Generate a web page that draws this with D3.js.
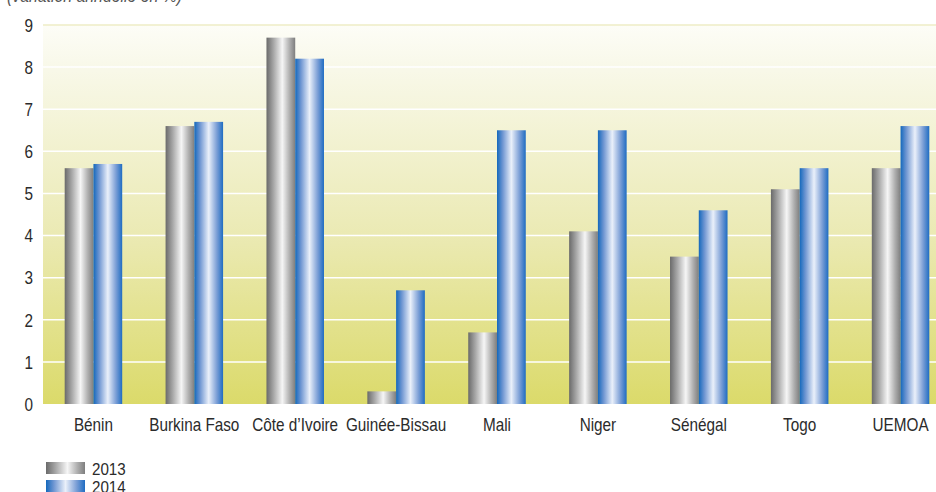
<!DOCTYPE html>
<html>
<head>
<meta charset="utf-8">
<script src="https://cdn.jsdelivr.net/npm/d3@7/dist/d3.min.js"></script>
<style>
  html, body { margin: 0; padding: 0; background: #fff; }
  svg { display: block; }
  svg text { font-family: "Liberation Sans Narrow", "Arial Narrow", "Liberation Sans", Arial, sans-serif; fill: #2b2b2b; }
</style>
</head>
<body>
<svg id="chart" width="936" height="492"></svg>
<script>
const categories = ["Bénin", "Burkina Faso", "Côte d’Ivoire", "Guinée-Bissau", "Mali", "Niger", "Sénégal", "Togo", "UEMOA"];
const seriesNames = ["2013", "2014"];
const values2013 = [5.6, 6.6, 8.7, 0.3, 1.7, 4.1, 3.5, 5.1, 5.6];
const values2014 = [5.7, 6.7, 8.2, 2.7, 6.5, 6.5, 4.6, 5.6, 6.6];
const yTicks = [0, 1, 2, 3, 4, 5, 6, 7, 8, 9];
const subtitle = "(variation annuelle en %)";

(function () {
const svg = d3.select("#chart");
const W = 936;
const mLeft = 43, mRight = 951, mTop = 25, mBottom = 404;
const condense = "scale(0.85,1)";

const defs = svg.append("defs");
const bg = defs.append("linearGradient").attr("id", "bg").attr("x1", 0).attr("y1", 0).attr("x2", 0).attr("y2", 1);
bg.append("stop").attr("offset", "0%").attr("stop-color", "#fdfdf7");
bg.append("stop").attr("offset", "12%").attr("stop-color", "#f8f8e8");
bg.append("stop").attr("offset", "55%").attr("stop-color", "#ebeab4");
bg.append("stop").attr("offset", "100%").attr("stop-color", "#dbda6a");

const gGray = defs.append("linearGradient").attr("id", "g2013").attr("x1", 0).attr("y1", 0).attr("x2", 1).attr("y2", 0);
[["0%", "#6a6a6a"], ["25%", "#a8a8a8"], ["55%", "#f6f6f6"], ["80%", "#b0b0b0"], ["100%", "#7e7e7e"]]
  .forEach(([o, c]) => gGray.append("stop").attr("offset", o).attr("stop-color", c));
const gBlue = defs.append("linearGradient").attr("id", "g2014").attr("x1", 0).attr("y1", 0).attr("x2", 1).attr("y2", 0);
[["0%", "#1468bc"], ["20%", "#6f96d2"], ["50%", "#eaf0fa"], ["78%", "#7c9fd6"], ["100%", "#1f6cc2"]]
  .forEach(([o, c]) => gBlue.append("stop").attr("offset", o).attr("stop-color", c));

const x0 = d3.scaleBand().domain(categories).range([mLeft, mRight]).paddingInner(0.43).paddingOuter(0.215);
const x1 = d3.scaleBand().domain(seriesNames).range([0, x0.bandwidth()]);
const y = d3.scaleLinear().domain([0, 9]).range([mBottom, mTop]);

// background
svg.append("rect").attr("x", mLeft).attr("y", y(9)).attr("width", W - mLeft).attr("height", y(0) - y(9)).attr("fill", "url(#bg)");

// gridlines
svg.append("g").selectAll("line").data(yTicks.filter(d => d > 0)).join("line")
  .attr("x1", mLeft).attr("x2", W)
  .attr("y1", d => y(d)).attr("y2", d => y(d))
  .attr("stroke", d => d === 9 ? "#eeedc6" : "#ffffff")
  .attr("stroke-width", 1.5);

// y axis labels
const yAxis = d3.axisLeft(y).tickValues(yTicks).tickSize(0).tickPadding(0).tickFormat(d3.format("d"));
const ya = svg.append("g").attr("transform", "translate(33,0)").call(yAxis)
  .attr("font-family", null).attr("font-size", 18);
ya.select(".domain").remove();
ya.selectAll("text").attr("fill", "#2b2b2b").attr("dy", "0.35em").attr("transform", condense);

// bars
const series = [values2013, values2014];
const groups = svg.append("g").selectAll("g").data(categories).join("g")
  .attr("transform", d => `translate(${x0(d)},0)`);
groups.selectAll("rect").data((d, i) => seriesNames.map((s, k) => ({ s, v: series[k][i] }))).join("rect")
  .attr("x", d => x1(d.s))
  .attr("width", x1.bandwidth())
  .attr("y", d => y(d.v))
  .attr("height", d => y(0) - y(d.v))
  .attr("fill", d => `url(#g${d.s})`);

// x axis labels
const xAxis = d3.axisBottom(x0).tickSize(0).tickPadding(0);
const xa = svg.append("g").attr("transform", "translate(0,418)").call(xAxis)
  .attr("font-family", null).attr("font-size", 18);
xa.select(".domain").remove();
xa.selectAll("text").attr("fill", "#2b2b2b").attr("transform", condense);

// subtitle (cropped at top)
svg.append("g").attr("transform", "translate(7,2) scale(0.88,1)")
  .append("text").attr("font-size", 18).attr("font-style", "italic")
  .style("fill", "#555").text(subtitle);

// legend
const leg = svg.append("g").selectAll("g").data(seriesNames).join("g")
  .attr("transform", (d, i) => `translate(46,${462 + i * 18})`);
leg.append("rect").attr("width", 39).attr("height", 12).attr("fill", d => `url(#g${d})`);
leg.append("g").attr("transform", "translate(46,12.5) scale(0.92,1)")
  .append("text").attr("font-size", 16.5).text(d => d);
})();
</script>
</body>
</html>
